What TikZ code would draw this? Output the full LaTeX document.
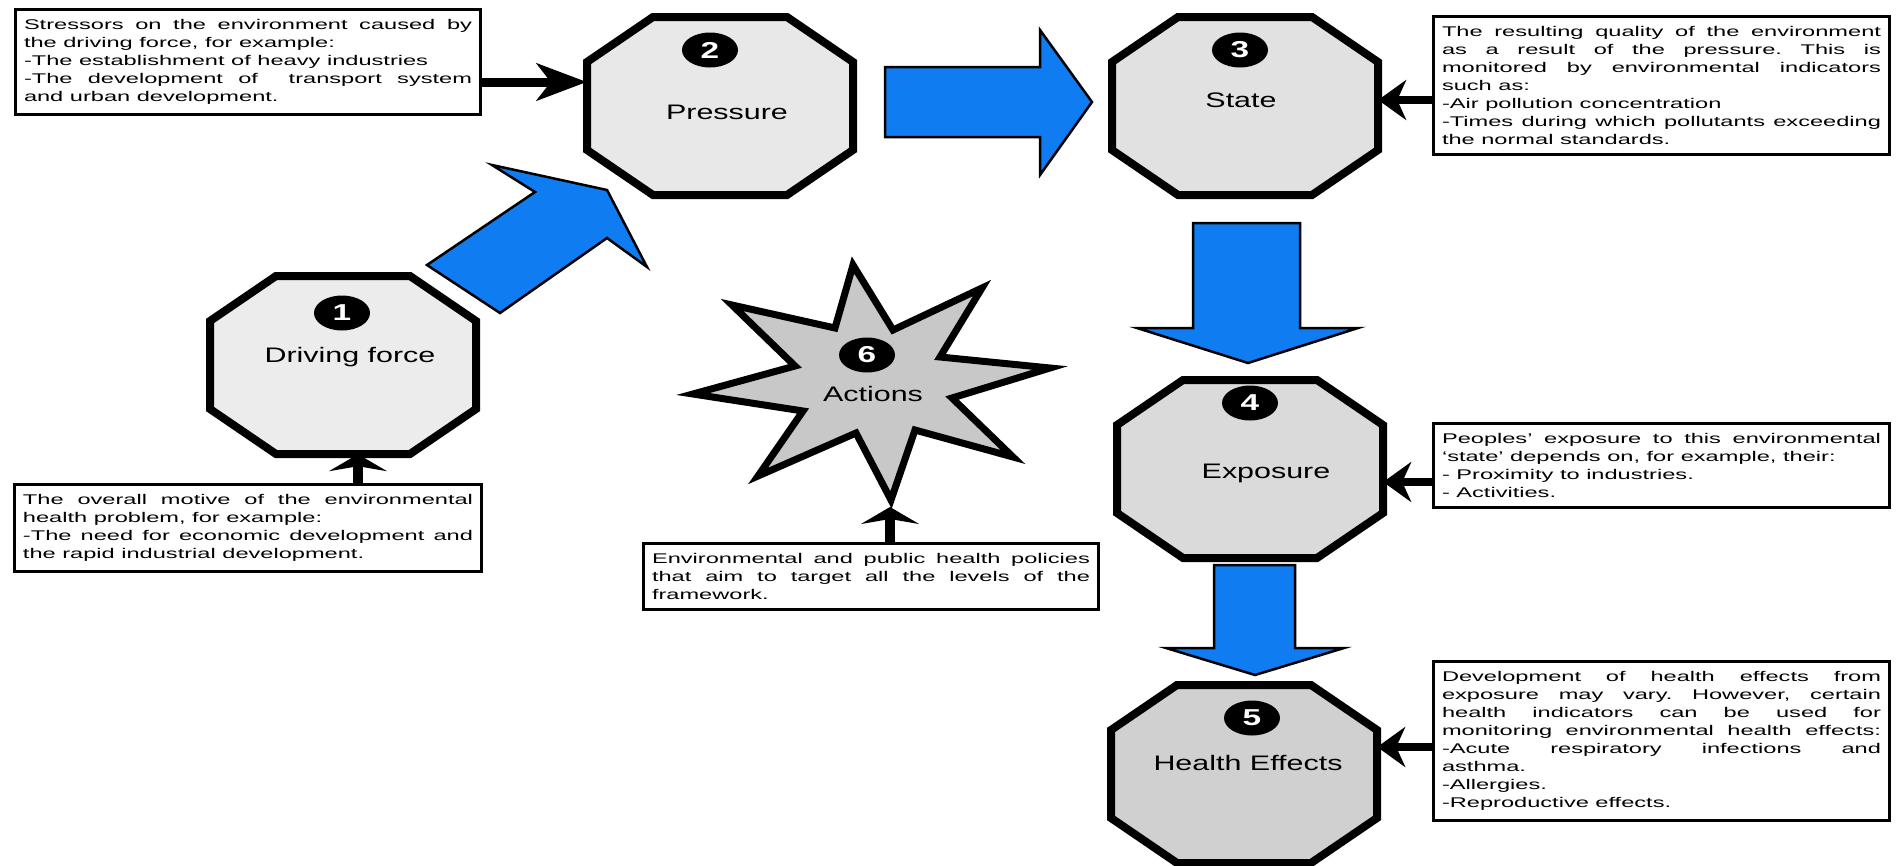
\documentclass[tikz,border=0pt]{standalone}
\usepackage{fontspec}
\setmainfont{Liberation Sans}[FakeStretch=1.45]
\newfontfamily\boxfont{Liberation Sans}[FakeStretch=1.68]
\usetikzlibrary{arrows.meta,shapes.geometric}
\frenchspacing

\definecolor{flowblue}{RGB}{16,124,242}
\definecolor{grayA}{RGB}{236,236,236}
\definecolor{grayB}{RGB}{232,232,232}
\definecolor{grayC}{RGB}{225,225,225}
\definecolor{grayD}{RGB}{218,218,218}
\definecolor{grayE}{RGB}{208,208,208}
\definecolor{grayF}{RGB}{200,200,200}

\begin{document}
\begin{tikzpicture}[x=1pt,y=-1pt,
    octo/.style={line width=8pt,draw=black},
    octpath/.style={insert path={+(-133,-44) -- +(-67,-89) -- +(67,-89) -- +(133,-44) -- +(133,44) -- +(67,89) -- +(-67,89) -- +(-133,44) -- cycle}},
    octbox/.style={minimum width=266pt,minimum height=178pt,inner sep=0pt},
    octtext/.style={inner sep=0pt,font=\fontsize{21}{24}\selectfont},
    numdot/.style={ellipse,fill=black,text=white,minimum width=56pt,minimum height=35pt,inner sep=0pt,font=\fontsize{23}{23}\selectfont\bfseries},
    infobox/.style={draw,line width=3pt,fill=white,anchor=north west,align=justify,inner xsep=8.5pt,inner ysep=10pt,font=\boxfont\fontsize{14.05}{18}\selectfont},
    blockarrow/.style={fill=flowblue,draw=black,line width=2.5pt,line join=miter},
    larr/.style={line width=8pt,-{Stealth[length=28pt,width=40pt,inset=9pt]}},
    uarr/.style={line width=10pt,-{Stealth[length=17pt,width=58pt,inset=5pt]}}
  ]
    \useasboundingbox (0,0) rectangle (1896,865);

    % the five octagons
    \filldraw[octo,fill=grayA] (343,365) [octpath];
    \node[octbox] (drive) at (343,365) {};
    \node[octtext] (drivetxt) at (350,357) {Driving force};
    \node[numdot] (n1) at (342,313) {1};

    \filldraw[octo,fill=grayB] (720,106) [octpath];
    \node[octbox] (press) at (720,106) {};
    \node[octtext] (presstxt) at (727,112) {Pressure};
    \node[numdot] (n2) at (710,50) {2};

    \filldraw[octo,fill=grayC] (1245,106) [octpath];
    \node[octbox] (state) at (1245,106) {};
    \node[octtext] (statetxt) at (1241,100) {State};
    \node[numdot] (n3) at (1240,50) {3};

    \filldraw[octo,fill=grayD] (1250,469) [octpath];
    \node[octbox] (expo) at (1250,469) {};
    \node[octtext] (expotxt) at (1266,473) {Exposure};
    \node[numdot] (n4) at (1250,403) {4};

    \filldraw[octo,fill=grayE] (1244,774) [octpath];
    \node[octbox] (health) at (1244,774) {};
    \node[octtext] (healthtxt) at (1248,763) {Health Effects};
    \node[numdot] (n5) at (1252,718) {5};

    % the star
    \filldraw[line width=7pt,fill=grayF,line join=miter] (853,265) -- (893,330) -- (982,288) -- (940,357) -- (1050,368) -- (952,398) -- (1013,457) -- (915,430) -- (891,500) -- (856,433) -- (758,476) -- (803,411) -- (693,394) -- (795,366) -- (732,305) -- (835,328) -- cycle;
    \node[octtext] (act) at (873,394) {Actions};
    \node[numdot] (n6) at (867,355) {6};
    \coordinate (actbot) at (890,507);

    % blue flow arrows
    \filldraw[blockarrow] (427,265) -- (535,192) -- (492,165) -- (607,190) -- (647,267) -- (607,238) -- (500,313) -- cycle;
    \filldraw[blockarrow] (885,67) -- (1040,67) -- (1040,30) -- (1092,102) -- (1040,175) -- (1040,137) -- (885,137) -- cycle;
    \filldraw[blockarrow] (1193,223) -- (1300,223) -- (1300,328) -- (1358,328) -- (1248,363) -- (1137,328) -- (1193,328) -- cycle;
    \filldraw[blockarrow] (1214,565) -- (1295,565) -- (1295,648) -- (1344,648) -- (1255,675) -- (1166,648) -- (1214,648) -- cycle;

    % text boxes
    \node[infobox,text width=448pt] (stress) at (14,8) {Stressors on the environment caused by\linebreak
      the driving force, for example:\newline
      -The establishment of heavy industries\newline
      -The development of\ \ transport system\linebreak
      and urban development.};
    \node[infobox,text width=450pt] (motive) at (13,483) {The overall motive of the environmental\linebreak
      health problem, for example:\newline
      -The need for economic development and\linebreak
      the rapid industrial development.};
    \node[infobox,text width=438pt] (policy) at (642,542) {Environmental and public health policies\linebreak
      that aim to target all the levels of the\linebreak
      framework.};
    \node[infobox,text width=439pt] (desc3) at (1432,15) {The resulting quality of the environment\linebreak
      as a result of the pressure. This is\linebreak
      monitored by environmental indicators\linebreak
      such as:\newline
      -Air pollution concentration\newline
      -Times during which pollutants exceeding\linebreak
      the normal standards.};
    \node[infobox,text width=439pt] (desc4) at (1432,422) {Peoples’ exposure to this environmental\linebreak
      ‘state’ depends on, for example, their:\newline
      - Proximity to industries.\newline
      - Activities.};
    \node[infobox,text width=439pt] (desc5) at (1432,660) {Development of health effects from\linebreak
      exposure may vary. However, certain\linebreak
      health indicators can be used for\linebreak
      monitoring environmental health effects:\linebreak
      -Acute respiratory infections and\linebreak
      asthma.\newline
      -Allergies.\newline
      -Reproductive effects.};

    % black arrows
    \draw[line width=9pt,-{Stealth[length=50pt,width=37pt,inset=14pt]}] (stress.east |- 0,82) -- (press.west |- 0,82);
    \draw[larr] (desc3.west |- 0,100) -- (state.east |- 0,100);
    \draw[larr] (desc4.west |- 0,482) -- (expo.east |- 0,482);
    \draw[larr] (desc5.west |- 0,747) -- (health.east |- 0,747);
    \draw[uarr] (motive.north -| 358,0) -- (drive.south -| 358,0);
    \draw[uarr] (policy.north -| actbot) -- (actbot);
\end{tikzpicture}
\end{document}
